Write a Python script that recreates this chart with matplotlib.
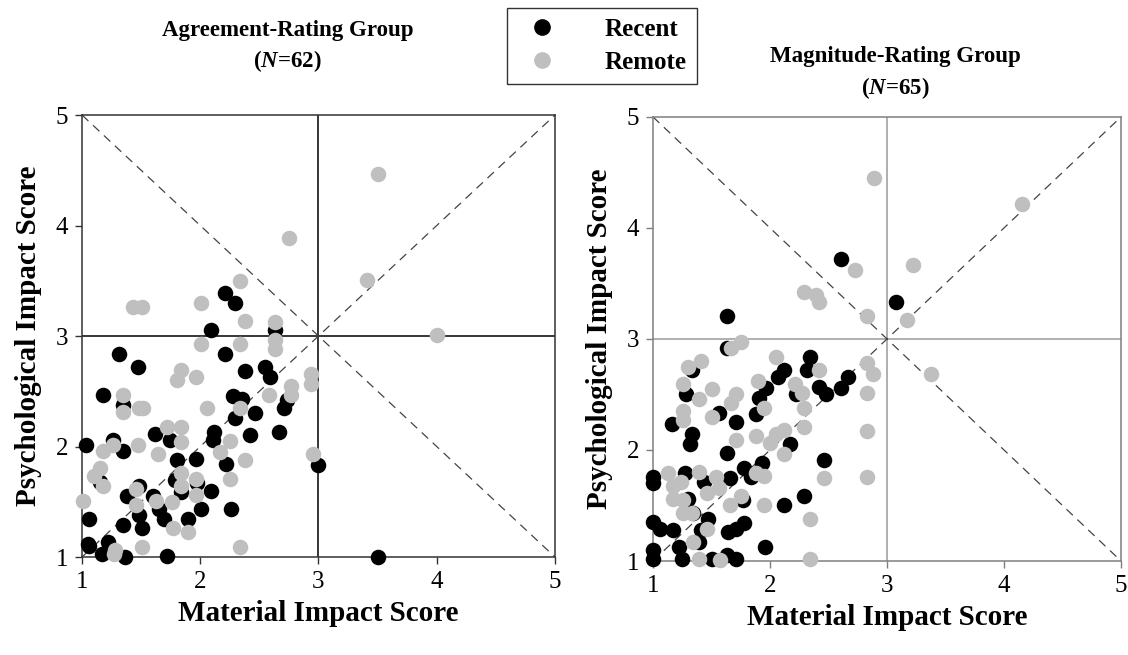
import matplotlib
matplotlib.use("Agg")
import matplotlib.pyplot as plt
from matplotlib.lines import Line2D

plt.rcParams["font.family"] = ["Liberation Serif", "DejaVu Serif"]
plt.rcParams["mathtext.fontset"] = "custom"
plt.rcParams["mathtext.it"] = "Liberation Serif:italic:bold"
plt.rcParams["mathtext.rm"] = "Liberation Serif:bold"

# ── data: (material, psychological) impact scores ────────────────────────────
agree_recent_x = [2.21, 2.29, 2.09, 2.63, 1.31, 1.47, 2.21, 2.38, 2.55, 2.59, 1.18, 1.35,
                  2.28, 2.35, 2.46, 2.29, 2.73, 2.71, 1.03, 1.26, 1.35, 1.62, 1.74, 2.12,
                  2.11, 2.42, 2.67, 1.80, 1.96, 2.22, 3.00, 1.15, 1.48, 1.79, 1.84, 1.97,
                  2.09, 1.38, 1.60, 1.65, 2.01, 2.26, 1.48, 1.69, 1.90, 1.06, 1.35, 1.51,
                  1.05, 1.06, 1.22, 1.17, 1.36, 1.72, 3.50]
agree_recent_y = [3.39, 3.30, 3.05, 3.05, 2.84, 2.72, 2.84, 2.68, 2.72, 2.63, 2.47, 2.38,
                  2.46, 2.43, 2.30, 2.26, 2.42, 2.35, 2.01, 2.06, 1.96, 2.11, 2.06, 2.13,
                  2.06, 2.10, 2.13, 1.88, 1.89, 1.84, 1.83, 1.68, 1.64, 1.70, 1.59, 1.67,
                  1.60, 1.55, 1.55, 1.43, 1.43, 1.43, 1.38, 1.34, 1.34, 1.34, 1.29, 1.26,
                  1.12, 1.10, 1.14, 1.03, 1.00, 1.01, 1.00]

agree_remote_x = [3.50, 2.75, 3.41, 4.00, 2.34, 2.01, 1.43, 1.51, 2.38, 2.63, 2.63, 2.63,
                  2.01, 2.34, 1.84, 1.80, 1.96, 1.35, 1.35, 1.48, 1.52, 2.06, 2.34, 2.58,
                  2.77, 2.77, 2.94, 2.94, 1.72, 1.84, 1.84, 1.47, 1.18, 1.26, 1.64, 2.25,
                  2.17, 2.38, 2.95, 1.15, 1.10, 1.18, 1.01, 1.46, 1.46, 1.63, 1.76, 1.84,
                  1.84, 1.96, 1.96, 2.25, 1.77, 1.90, 1.51, 1.28, 1.27, 2.34]
agree_remote_y = [4.47, 3.89, 3.51, 3.01, 3.50, 3.30, 3.26, 3.26, 3.14, 3.13, 2.96, 2.88,
                  2.93, 2.93, 2.69, 2.60, 2.63, 2.47, 2.31, 2.35, 2.35, 2.35, 2.35, 2.47,
                  2.55, 2.47, 2.66, 2.57, 2.18, 2.18, 2.04, 2.01, 1.96, 2.01, 1.93, 2.05,
                  1.95, 1.88, 1.93, 1.81, 1.73, 1.64, 1.51, 1.62, 1.47, 1.51, 1.50, 1.76,
                  1.64, 1.71, 1.56, 1.71, 1.26, 1.23, 1.09, 1.06, 1.03, 1.09]

magn_recent_x = [2.61, 1.63, 3.08, 1.63, 1.33, 1.28, 1.16, 1.56, 1.71, 1.33, 1.32, 1.97,
                 1.91, 1.88, 2.12, 2.07, 2.34, 2.32, 2.42, 2.48, 2.22, 2.61, 2.67, 2.17,
                 1.63, 2.46, 1.00, 1.00, 1.27, 1.44, 1.66, 1.78, 1.93, 1.84, 1.30, 1.77,
                 2.12, 2.29, 1.34, 1.47, 1.00, 1.06, 1.17, 1.41, 1.64, 1.71, 1.78, 1.39,
                 1.22, 1.96, 1.00, 1.00, 1.25, 1.50, 1.63, 1.71]
magn_recent_y = [3.72, 3.21, 3.33, 2.92, 2.72, 2.50, 2.23, 2.33, 2.25, 2.14, 2.05, 2.56,
                 2.47, 2.32, 2.72, 2.66, 2.84, 2.72, 2.57, 2.50, 2.50, 2.56, 2.66, 2.05,
                 1.97, 1.91, 1.76, 1.70, 1.79, 1.71, 1.75, 1.84, 1.88, 1.76, 1.56, 1.55,
                 1.50, 1.59, 1.43, 1.38, 1.35, 1.29, 1.28, 1.28, 1.26, 1.29, 1.34, 1.17,
                 1.13, 1.13, 1.10, 1.02, 1.02, 1.02, 1.05, 1.02]

magn_remote_x = [2.89, 4.15, 3.22, 2.73, 2.29, 2.39, 2.42, 2.83, 3.17, 1.75, 1.67, 2.05,
                 1.41, 2.83, 1.30, 2.42, 2.88, 3.38, 1.90, 1.26, 2.21, 1.50, 2.27, 1.71,
                 2.83, 1.39, 1.67, 1.95, 2.29, 1.26, 1.50, 1.26, 2.29, 2.12, 2.83, 2.05,
                 1.88, 1.71, 2.00, 2.12, 1.39, 1.13, 1.88, 1.95, 1.54, 2.46, 2.83, 1.24,
                 1.17, 1.56, 1.46, 1.75, 1.17, 1.26, 1.66, 1.95, 1.26, 1.33, 2.34, 1.46,
                 1.34, 1.39, 1.57, 2.34]
magn_remote_y = [4.45, 4.22, 3.67, 3.62, 3.42, 3.40, 3.33, 3.21, 3.17, 2.97, 2.92, 2.84,
                 2.80, 2.78, 2.75, 2.72, 2.68, 2.68, 2.62, 2.59, 2.59, 2.55, 2.51, 2.50,
                 2.51, 2.46, 2.42, 2.38, 2.38, 2.35, 2.30, 2.27, 2.21, 2.18, 2.17, 2.14,
                 2.13, 2.09, 2.06, 1.96, 1.80, 1.79, 1.79, 1.77, 1.76, 1.75, 1.76, 1.71,
                 1.68, 1.66, 1.61, 1.59, 1.56, 1.55, 1.50, 1.50, 1.43, 1.43, 1.38, 1.29,
                 1.17, 1.02, 1.01, 1.02]

RECENT_C = "black"
REMOTE_C = "#bfbfbf"
DOT = 125

fig = plt.figure(figsize=(11.28, 6.55), dpi=100)
ax1 = fig.add_axes([0.0727, 0.1496, 0.4193, 0.6748])
ax2 = fig.add_axes([0.5789, 0.1435, 0.4149, 0.6780])


def draw_panel(ax, rx, ry, mx, my, frame_c, mid_c):
    ax.set_xlim(1, 5)
    ax.set_ylim(1, 5)
    ax.set_xticks([1, 2, 3, 4, 5])
    ax.set_yticks([1, 2, 3, 4, 5])
    ax.tick_params(labelsize=18, direction="out", length=5, width=1,
                   color=frame_c, pad=5)
    for s in ax.spines.values():
        s.set_color(frame_c)
        s.set_linewidth(1.1)
    # quadrant lines and diagonals
    ax.axvline(3, color=mid_c, lw=1.1, zorder=1)
    ax.axhline(3, color=mid_c, lw=1.1, zorder=1)
    ax.plot([1, 5], [1, 5], ls=(0, (7, 5)), color="#444444", lw=0.9, zorder=1)
    ax.plot([1, 5], [5, 1], ls=(0, (7, 5)), color="#444444", lw=0.9, zorder=1)
    ax.scatter(rx, ry, s=DOT, color=RECENT_C, linewidths=0, zorder=3, clip_on=False)
    ax.scatter(mx, my, s=DOT, color=REMOTE_C, linewidths=0, zorder=4, clip_on=False)
    ax.set_xlabel("Material Impact Score", fontsize=21, fontweight="bold", labelpad=5)
    ax.set_ylabel("Psychological Impact Score", fontsize=21, fontweight="bold", labelpad=10)


draw_panel(ax1, agree_recent_x, agree_recent_y, agree_remote_x, agree_remote_y,
           "#333333", "black")
draw_panel(ax2, magn_recent_x, magn_recent_y, magn_remote_x, magn_remote_y,
           "#7f7f7f", "#9a9a9a")

fig.text(0.255, 0.928, "Agreement-Rating Group\n(" + r"$N$" + "=62)",
         ha="center", va="center", fontsize=16.5, fontweight="bold", linespacing=1.4)
fig.text(0.794, 0.888, "Magnitude-Rating Group\n(" + r"$N$" + "=65)",
         ha="center", va="center", fontsize=16.5, fontweight="bold", linespacing=1.4)

handles = [
    Line2D([], [], ls="none", marker="o", markersize=11, color=RECENT_C, label="Recent"),
    Line2D([], [], ls="none", marker="o", markersize=11, color=REMOTE_C, label="Remote"),
]
leg = fig.legend(handles=handles, loc="upper center", bbox_to_anchor=(0.5337, 0.988),
                 frameon=True, fancybox=False, edgecolor="black",
                 prop={"size": 18, "weight": "bold"}, handletextpad=1.5,
                 borderpad=0.4, labelspacing=0.4, borderaxespad=0.0)
leg.get_frame().set_linewidth(1.0)

fig.savefig("out.png", dpi=100, facecolor="white")
